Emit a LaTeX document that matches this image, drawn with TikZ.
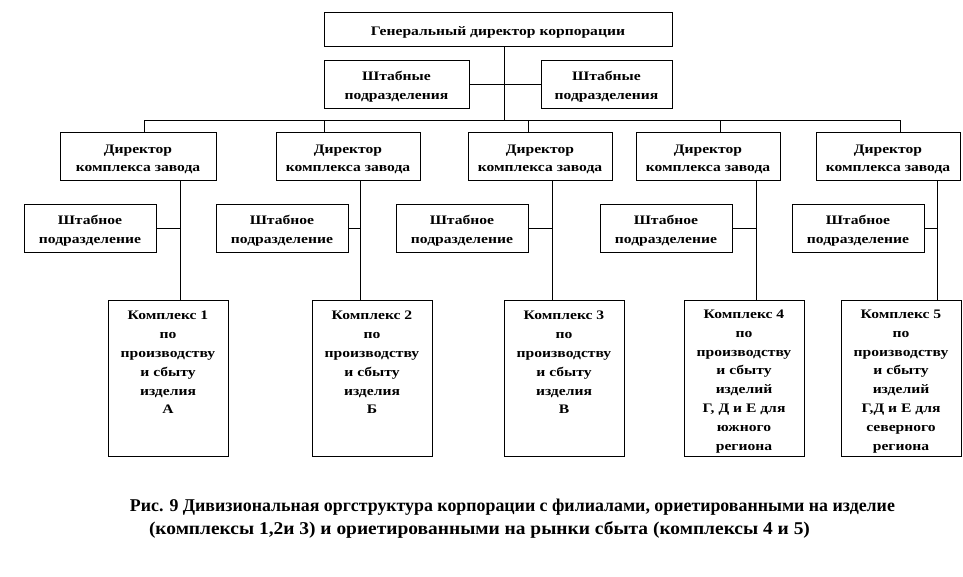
\documentclass[tikz,border=0pt]{standalone}
\usepackage{fontspec}
\setmainfont{Liberation Serif}
\newfontfamily\boxfont{Liberation Serif}[FakeStretch=1.2]
\newcommand\tstrut{\rule{0pt}{11.5pt}}
\begin{document}
\begin{tikzpicture}[x=0.75pt,y=-0.75pt,line width=0.75pt,
  box/.style={draw,line width=0.75pt,align=center,inner sep=0pt,
    font=\boxfont\bfseries\fontsize{9.75}{14.1}\selectfont},
  captext/.style={inner sep=0pt,font=\bfseries\fontsize{13.5}{16}\selectfont}]
\useasboundingbox (0,0) rectangle (963,576);
% top level
\node[box,minimum width=261pt,minimum height=25.5pt] (gd) at (498,29) {\tstrut Генеральный директор корпорации};
\node[box,minimum width=108.75pt,minimum height=36pt] (sl) at (396.5,84) {\tstrut Штабные\\подразделения};
\node[box,minimum width=98.25pt,minimum height=36pt] (sr) at (606.5,84) {\tstrut Штабные\\подразделения};
% directors
\node[box,minimum width=117pt,minimum height=36pt] (d1) at (138,156) {\tstrut Директор\\комплекса завода};
\node[box,minimum width=108pt,minimum height=36pt] (d2) at (348,156) {\tstrut Директор\\комплекса завода};
\node[box,minimum width=108pt,minimum height=36pt] (d3) at (540,156) {\tstrut Директор\\комплекса завода};
\node[box,minimum width=108pt,minimum height=36pt] (d4) at (708,156) {\tstrut Директор\\комплекса завода};
\node[box,minimum width=108pt,minimum height=36pt] (d5) at (888,156) {\tstrut Директор\\комплекса завода};
% staff units
\node[box,minimum width=99pt,minimum height=36pt] (s1) at (90,228) {\tstrut Штабное\\подразделение};
\node[box,minimum width=99pt,minimum height=36pt] (s2) at (282,228) {\tstrut Штабное\\подразделение};
\node[box,minimum width=99pt,minimum height=36pt] (s3) at (462,228) {\tstrut Штабное\\подразделение};
\node[box,minimum width=99pt,minimum height=36pt] (s4) at (666,228) {\tstrut Штабное\\подразделение};
\node[box,minimum width=99pt,minimum height=36pt] (s5) at (858,228) {\tstrut Штабное\\подразделение};
% complexes
\node[box,minimum width=90pt,minimum height=117pt] (c1) at (168,378) {\tstrut Комплекс 1\\по\\производству\\и сбыту\\изделия\\А\\~\\~};
\node[box,minimum width=90pt,minimum height=117pt] (c2) at (372,378) {\tstrut Комплекс 2\\по\\производству\\и сбыту\\изделия\\Б\\~\\~};
\node[box,minimum width=90pt,minimum height=117pt] (c3) at (564,378) {\tstrut Комплекс 3\\по\\производству\\и сбыту\\изделия\\В\\~\\~};
\node[box,minimum width=90pt,minimum height=117pt] (c4) at (744,378) {\tstrut Комплекс 4\\по\\производству\\и сбыту\\изделий\\Г, Д и Е для\\южного\\региона};
\node[box,minimum width=90pt,minimum height=117pt] (c5) at (901,378) {\tstrut Комплекс 5\\по\\производству\\и сбыту\\изделий\\Г,Д и Е для\\северного\\региона};
% connectors
\coordinate (t) at (504,120);
\draw (gd.south -| t) -- (t);
\draw (sl.east) -- (sr.west);
\coordinate (b1) at (144,120);
\coordinate (b2) at (324,120);
\coordinate (b3) at (528,120);
\coordinate (b4) at (720,120);
\coordinate (b5) at (900,120);
\draw (b1) -- (b5);
\coordinate (v1) at (180,0);
\coordinate (v2) at (360,0);
\coordinate (v3) at (552,0);
\coordinate (v4) at (756,0);
\coordinate (v5) at (937,0);
\foreach \i in {1,...,5}{
  \draw (b\i) -- (b\i |- d\i.north);
  \draw (d\i.south -| v\i) -- (c\i.north -| v\i);
  \draw (s\i.east) -- (s\i.east -| v\i);
}
% caption
\node[captext] (cap1) at (512.5,507) {\resizebox{573.75pt}{\height}{Рис. 9 Дивизиональная оргструктура корпорации с филиалами, ориетированными на изделие}};
\node[captext] (cap2) at (479.5,530) {\resizebox{495.75pt}{\height}{(комплексы 1,2и 3) и ориетированными на рынки сбыта (комплексы 4 и 5)}};
\end{tikzpicture}
\end{document}
